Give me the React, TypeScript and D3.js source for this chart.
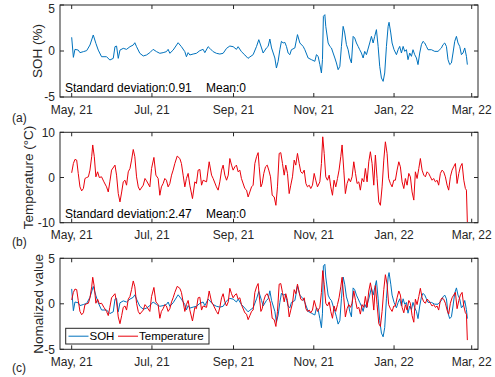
import React from "react";
import * as d3 from "d3";

// ---------- data ----------
const START_DATE = new Date(2021, 4, 1); // day offsets are counted from May 1, 2021

const SOH_DAYS = [
  0, 1.3, 2.5, 5, 6.3, 8.9, 11.4, 13.9, 16.4, 18.4, 20.2, 22.7, 26.5, 29, 31.6, 32.9, 34.1, 35.4, 36.7, 39.2,
  41.7, 44.3, 46.8, 48, 49.3, 51.8, 54.4, 56.9, 59.4, 61.9, 64.5, 67, 69.5, 72, 73.3, 74.6, 77.1, 80.9, 83.4, 86,
  87.2, 88.5, 89.8, 92.3, 94.8, 97.4, 99.9, 101.2, 103.7, 105, 107.5, 110, 112.6, 115.1, 117.7, 120.2, 122.7, 125.2, 126.5, 129,
  131.6, 134, 135.4, 137.9, 140.5, 142.2, 144.3, 145.5, 148, 149.3, 150.6, 151.9, 154.4, 155.6, 156.9, 158.2, 159.4, 160.7, 162, 163.2,
  164.5, 165.8, 167, 169.6, 171.6, 173.4, 175.9, 177.2, 179.7, 182.2, 184.8, 186, 187.3, 188.6, 189.8, 190.6, 191.3, 192.4, 193.1, 194.9,
  196.2, 197.4, 198.7, 200, 201.2, 202.5, 203.8, 205, 206.3, 207.5, 208.8, 210.1, 211.3, 212.6, 213.9, 215.1, 216.4, 217.7, 218.9, 220.2,
  221.5, 222.7, 224, 226.5, 227.8, 229.1, 230.3, 231.6, 232.9, 234.1, 235.4, 236.7, 237.9, 239.2, 240.5, 241.2, 242.5, 243.5, 245, 246.8,
  248.1, 249.3, 250.6, 251.9, 253.1, 254.4, 255.6, 256.9, 258.2, 259.4, 260.7, 262, 263.2, 264.5, 265.8, 267, 268.3, 269.6, 270.8, 273.4,
  275.9, 278.4, 281, 282.2, 283.5, 284.8, 286, 287.3, 288.6, 289.8, 291.1, 292.4, 293.6, 294.9, 296.2, 297.4, 298.7, 300, 300.7,
];
const SOH_VALUES = [
  1.49, -0.69, 0.18, 0.1, -0.18, -0.07, 0.04, 0.65, 1.74, 0.83, 0.1, -0.62, -0.62, -0.98, -0.8, 0.47, 0.54, -0.8, 0.1, 0.29,
  0.18, 0.47, 0.65, 0.9, 0.47, -0.25, -0.54, -0.43, -0.18, 0.18, -0.07, -0.25, -0.18, -0.07, 0.18, -0.25, 0.1, 0.9, 0.47, -0.07,
  -0.62, -0.18, -0.43, -0.33, -0.25, 0.04, 0.18, -0.18, 0.47, 0.29, -0.07, -0.25, -0.33, -0.25, 0.29, 0.54, 0.47, 0.18, 0.47, -0.07,
  -0.43, -0.8, -0.65, -0.4, 0.5, 1.23, 0.33, -0.22, 0.33, 0.5, 1.3, 0.33, -0.76, -1.85, -1.12, 0.14, 1.05, 0.87, 0.94, 0.5,
  -0.22, -0.4, 0.14, 0.33, 1.78, 0.87, 0.5, 0.14, -0.76, -0.94, -1.12, -0.4, -0.58, -1.48, -2.39, -0.94, 3.77, 3.95, 2.68, 0.87,
  0.5, 0.33, -0.22, -0.76, -1.3, -2.03, -1.67, 0.5, 2.68, 1.96, 0.69, 0.14, -0.76, -1.3, 1.59, 1.41, 0.87, 0.5, 0.14, -0.22,
  -0.76, -0.04, -0.4, 0.87, 1.59, 0.87, 1.59, 2.32, 0.5, -1.67, -2.93, -3.3, -2.39, 0.5, 2.68, 3.12, 1.96, 0.87, 0.14, -0.4,
  0.14, 0.5, -0.22, 0.5, -0.04, 0.14, -0.94, -0.22, -0.58, 0.14, -0.4, -0.76, -1.48, -0.22, 0.69, 1.05, 0.87, 0.5, 0.14, 0.14,
  -0.04, -0.04, 0.33, 0.69, 0.87, 0.5, -0.94, -1.48, -1.3, -0.22, 1.05, 1.59, 0.87, 0.5, -0.4, -0.22, 0.33, -0.58, -1.48,
];

const TEMP_DAYS = [
  0, 1.3, 2.5, 3.8, 5, 6.3, 7.6, 8.9, 10.1, 11.4, 12.7, 13.9, 15.2, 16, 17.2, 18.4, 19.7, 21, 22.7, 24.5,
  26.5, 27.8, 29, 30.3, 32.9, 34.1, 35.4, 36.7, 38, 39.2, 40.5, 41.7, 43, 44.3, 45.5, 46.8, 48, 49.3, 50.6, 51.8,
  54.4, 55.7, 56.9, 59.4, 60.7, 62.5, 64, 65.7, 67, 68.2, 69.5, 70.8, 72, 73.3, 74.6, 75.9, 77.1, 78.4, 80.2, 82.2,
  83.4, 84.7, 86, 87.2, 88.5, 89.8, 91.8, 93.6, 94.8, 96.1, 97.4, 98.7, 99.9, 102.5, 104.5, 106.3, 107.5, 110, 111.3, 112.6,
  113.9, 115.1, 116.4, 117.7, 119, 120.2, 121.5, 122.7, 124, 125.2, 126.5, 127.8, 129, 131.6, 132.9, 134.1, 135.4, 136.7, 137.9, 139.2,
  140.5, 141.7, 142.5, 143.8, 144.8, 146, 147.3, 148.6, 149.8, 151.1, 152.4, 153.9, 155.2, 156.4, 157.7, 158.9, 160.2, 161.5, 162.7, 164,
  165.3, 166.5, 167.8, 169.1, 170.3, 171.6, 172.9, 174.1, 175.4, 176.7, 178, 179.2, 180.5, 181.7, 183, 184.3, 185.5, 186.8, 188.6, 189.8,
  190.8, 191.9, 193.1, 194.4, 195.7, 196.9, 198.2, 199.4, 200.7, 202, 203.2, 204.5, 205.5, 206.8, 208, 209.3, 210.6, 211.9, 213.1, 214.4,
  215.7, 216.9, 218.2, 219.4, 220.7, 222, 223.2, 224.5, 225.8, 227, 228.3, 229.6, 230.8, 232.1, 233.4, 234.6, 235.9, 237.2, 238.4, 239.7,
  240.9, 242.2, 243.5, 244.8, 246, 247.3, 248.6, 249.8, 251.1, 252.4, 253.6, 254.9, 256.2, 257.4, 258.7, 260, 261.2, 262.5, 263.8, 265,
  266.3, 267.6, 268.8, 270.1, 271.3, 272.6, 273.9, 275.1, 276.4, 277.7, 278.9, 280.2, 281.5, 282.7, 284, 285.3, 286.5, 287.8, 289.1, 290.3,
  291.6, 292.9, 294.2, 295.4, 296.7, 298, 299.2, 300, 300.7,
];
const TEMP_VALUES = [
  1.04, 3.1, 4.0, 3.85, 0.9, -2.07, -2.96, -2.44, -0.22, 0, 0.15, 1.63, 4.6, 7.2, 4.6, 0.15, 1.26, 0, 0.15, -0.96,
  -2.07, -3.2, -0.96, 1.63, 2.74, 0.52, -3.56, -5.4, -3.2, -0.96, -0.6, -1.7, 1.26, 2.0, 3.85, 6.2, 4.6, 0.15, -2.07, -2.8,
  -1.7, -0.22, -0.74, -2.07, 2.0, 4.44, 0.52, -0.22, -3.93, -2.07, -1.33, -0.22, -0.6, -2.07, -1.33, 0.52, 1.63, 3.1, 4.74, 4.2,
  3.1, 0.52, -2.07, -0.22, 0.9, -1.7, -4.67, -0.96, -1.33, 1.63, 1.78, -1.7, -0.6, -0.96, 3.48, 0.52, -0.22, -2.07, -2.8, -0.96,
  1.63, 2.74, 0.52, -0.6, 0.52, 4.2, 2.74, 1.63, 2.37, 2.74, 1.26, 1.63, -0.22, -2.44, -2.8, -4.3, -3.2, -2.07, -1.7, 3.1,
  4.6, 5.5, 2.37, -2.07, -1.33, 0.9, 2.37, 2.74, 1.63, 0.15, -3.93, -4.3, -6.15, -2.07, 5.33, 5.5, 3.1, 0.52, 2.74, 0.9,
  -3.56, -1.7, 0.15, 3.85, 2.74, 5.33, 3.1, 1.26, 0.9, 1.63, -1.33, -2.07, -1.7, -2.44, -1.7, 0.9, -0.6, -2.07, -0.96, 3.1,
  9.0, 5.33, 0.15, -0.6, 0.52, -2.07, -3.93, -0.6, -2.07, -0.22, 1.63, 4.6, 7.2, 1.63, -3.56, -1.33, -0.22, -0.96, 0.15, 3.48,
  0.9, -1.33, -0.96, -2.8, -0.22, -0.96, 2.0, -0.96, 3.48, 5.7, 3.1, -1.7, 4.96, -0.22, -5.4, -6.15, -2.07, 3.85, 7.9, 5.33,
  -0.22, -1.33, -2.07, -0.6, -0.6, 1.63, 3.48, 2.37, -0.96, -2.44, -0.22, -1.7, 0.9, 0.15, -3.2, -5.0, 1.26, -0.22, 2.0, 4.2,
  1.63, 0.52, 0.15, 1.26, 0.9, 0.15, -0.6, -0.22, -0.96, -0.6, -1.7, 0.9, 1.63, 1.26, 0.15, -1.7, -2.8, 0.15, 1.63, 2.37,
  3.1, -1.33, 0.9, 2.37, 3.1, -0.6, -2.44, -2.8, -9.85,
];

const SOH_STD = 0.91;
const SOH_MEAN = 0;
const TEMP_STD = 2.47;
const TEMP_MEAN = 0;

const X_TICK_DATES = ["2021-05-01", "2021-07-01", "2021-09-01", "2021-11-01", "2022-01-01", "2022-03-01"];
const X_TICK_LABELS = ["May, 21", "Jul, 21", "Sep, 21", "Nov, 21", "Jan, 22", "Mar, 22"];
const X_DOMAIN = ["2021-04-22T03:00", "2022-03-05T19:00"];

const SOH_COLOR = "#0072BD";
const TEMP_COLOR = "#E8000B";
const AXIS_COLOR = "#262626";
const FONT = "'Liberation Sans', Arial, Helvetica, sans-serif";

// ---------- helpers ----------
const toDate = (d: number) => new Date(START_DATE.getTime() + d * 86400000);
const parseDay = (s: string) => {
  const [y, m, d] = s.split("T")[0].split("-").map(Number);
  const dt = new Date(y, m - 1, d);
  if (s.includes("T")) {
    const [hh, mm] = s.split("T")[1].split(":").map(Number);
    dt.setHours(hh, mm);
  }
  return dt;
};

const W = 495;
const H = 377;
const LEFT = 60;
const RIGHT = 478;

const x = d3.scaleTime().domain([parseDay(X_DOMAIN[0]), parseDay(X_DOMAIN[1])]).range([LEFT, RIGHT]);

type Series = { days: number[]; values: number[]; color: string; scale: number };

type PanelProps = {
  id: string;
  top: number;
  bottom: number;
  yDomain: [number, number];
  yTicks: number[];
  yLabel: string;
  yLabelX: number;
  panelLabel: string;
  panelLabelY: number;
  series: Series[];
  stats?: string[];
  legend?: boolean;
};

function Panel(p: PanelProps) {
  const y = d3.scaleLinear().domain(p.yDomain).range([p.bottom, p.top]);
  const tickLen = 4;
  const clipId = `clip-${p.id}`;
  return (
    <g>
      <defs>
        <clipPath id={clipId}>
          <rect x={LEFT} y={p.top} width={RIGHT - LEFT} height={p.bottom - p.top} />
        </clipPath>
      </defs>
      <rect x={LEFT} y={p.top} width={RIGHT - LEFT} height={p.bottom - p.top} fill="#fff" />
      <g clipPath={`url(#${clipId})`}>
        {p.series.map((s, i) => {
          const line = d3
            .line<number>()
            .x((_, j) => x(toDate(s.days[j])))
            .y((v) => y(v / s.scale));
          return <path key={i} d={line(s.values) || ""} fill="none" stroke={s.color} strokeWidth={1} strokeLinejoin="round" />;
        })}
      </g>
      {/* box */}
      <rect x={LEFT} y={p.top} width={RIGHT - LEFT} height={p.bottom - p.top} fill="none" stroke={AXIS_COLOR} strokeWidth={1} />
      {/* x ticks */}
      {X_TICK_DATES.map((t, i) => {
        const xx = x(parseDay(t));
        return (
          <g key={t}>
            <line x1={xx} x2={xx} y1={p.bottom} y2={p.bottom - tickLen} stroke={AXIS_COLOR} />
            <line x1={xx} x2={xx} y1={p.top} y2={p.top + tickLen} stroke={AXIS_COLOR} />
            <text x={xx} y={p.bottom + 16.5} textAnchor="middle" fontSize={12} fill={AXIS_COLOR} fontFamily={FONT}>
              {X_TICK_LABELS[i]}
            </text>
          </g>
        );
      })}
      {/* y ticks */}
      {p.yTicks.map((t) => {
        const yy = y(t);
        return (
          <g key={t}>
            <line x1={LEFT} x2={LEFT + tickLen} y1={yy} y2={yy} stroke={AXIS_COLOR} />
            <line x1={RIGHT} x2={RIGHT - tickLen} y1={yy} y2={yy} stroke={AXIS_COLOR} />
            <text x={LEFT - 5} y={Math.max(yy + 4.3, 13)} textAnchor="end" fontSize={12} fill={AXIS_COLOR} fontFamily={FONT}>
              {t}
            </text>
          </g>
        );
      })}
      {/* y label */}
      <text
        transform={`translate(${p.yLabelX},${(p.top + p.bottom) / 2}) rotate(-90)`}
        textAnchor="middle"
        fontSize={13.5}
        fill={AXIS_COLOR}
        fontFamily={FONT}
      >
        {p.yLabel}
      </text>
      {/* panel label */}
      <text x={12} y={p.panelLabelY} fontSize={12} fill={AXIS_COLOR} fontFamily={FONT}>
        {p.panelLabel}
      </text>
      {p.stats && (
        <g fontSize={12} fill="#000" fontFamily={FONT}>
          <text x={65} y={p.bottom - 5}>{p.stats[0]}</text>
          <text x={206} y={p.bottom - 5}>{p.stats[1]}</text>
        </g>
      )}
      {p.legend && (
        <g fontFamily={FONT} fontSize={11.5} fill="#000">
          <rect x={65.7} y={328.3} width={143.3} height={15.7} fill="#fff" stroke={AXIS_COLOR} strokeWidth={1} />
          <line x1={68.5} x2={88.5} y1={336.2} y2={336.2} stroke={SOH_COLOR} strokeWidth={1} />
          <text x={89.5} y={340.3}>SOH</text>
          <line x1={118} x2={138} y1={336.2} y2={336.2} stroke={TEMP_COLOR} strokeWidth={1} />
          <text x={139} y={340.3}>Temperature</text>
        </g>
      )}
    </g>
  );
}

export default function App() {
  return (
    <svg
      width={W}
      height={H}
      viewBox={`0 0 ${W} ${H}`}
      style={{ position: "absolute", left: 0, top: 0, background: "#fff" }}
    >
      <rect x={0} y={0} width={W} height={H} fill="#fff" />
      <Panel
        id="a"
        top={5}
        bottom={97}
        yDomain={[-5, 5]}
        yTicks={[-5, 0, 5]}
        yLabel="SOH (%)"
        yLabelX={42}
        panelLabel="(a)"
        panelLabelY={122}
        series={[{ days: SOH_DAYS, values: SOH_VALUES, color: SOH_COLOR, scale: 1 }]}
        stats={[`Standard deviation:${SOH_STD}`, `Mean:${SOH_MEAN}`]}
      />
      <Panel
        id="b"
        top={132.3}
        bottom={222.7}
        yDomain={[-10, 10]}
        yTicks={[-10, 0, 10]}
        yLabel="Temperature (°C)"
        yLabelX={33}
        panelLabel="(b)"
        panelLabelY={245.5}
        series={[{ days: TEMP_DAYS, values: TEMP_VALUES, color: TEMP_COLOR, scale: 1 }]}
        stats={[`Standard deviation:${TEMP_STD}`, `Mean:${TEMP_MEAN}`]}
      />
      <Panel
        id="c"
        top={258.3}
        bottom={349.3}
        yDomain={[-5, 5]}
        yTicks={[-5, 0, 5]}
        yLabel="Nomalized value"
        yLabelX={42.5}
        panelLabel="(c)"
        panelLabelY={372}
        series={[
          { days: SOH_DAYS, values: SOH_VALUES, color: SOH_COLOR, scale: SOH_STD },
          { days: TEMP_DAYS, values: TEMP_VALUES, color: TEMP_COLOR, scale: TEMP_STD },
        ]}
        legend
      />
    </svg>
  );
}
